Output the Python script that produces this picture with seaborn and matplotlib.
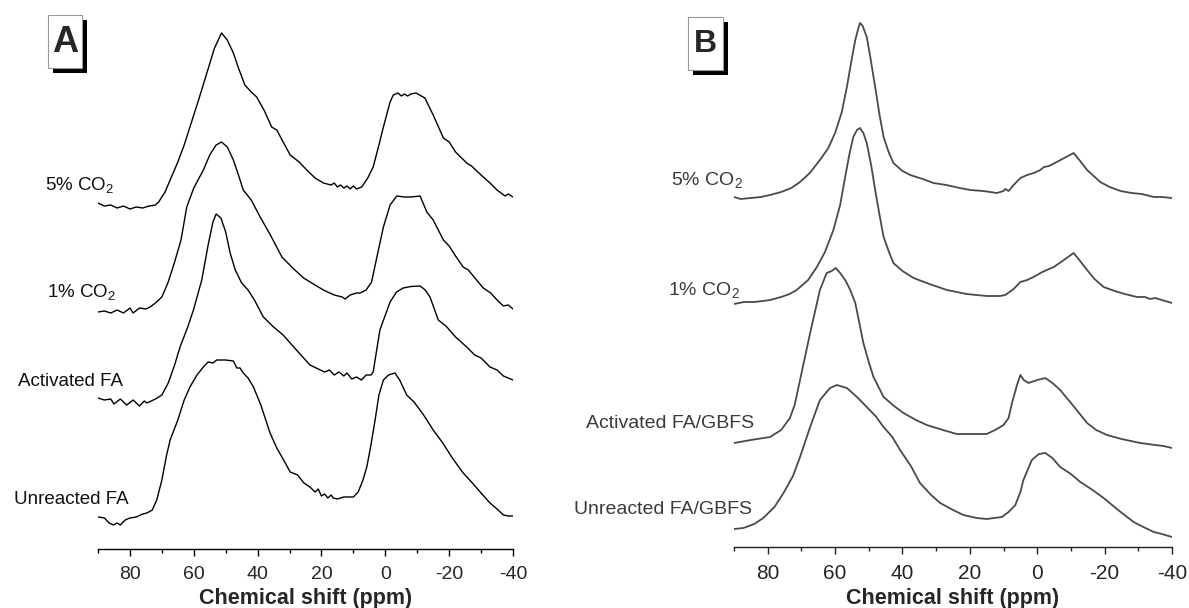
import numpy as np
import matplotlib
matplotlib.use('Agg')
import matplotlib.pyplot as plt
from matplotlib.patches import Rectangle
from matplotlib.ticker import MultipleLocator
import seaborn as sns

# ---- panel A : FA series (ppm, intensity above own baseline) ----
a_ppm_5co2 = [90, 88, 86, 84, 82, 80, 78, 76, 74, 72, 71, 69, 67.4, 65, 63, 61.2, 58.5, 55.9, 53.5, 51.3,
              49.5, 47.6, 46, 44, 42, 40.3, 38, 35.6, 34, 32, 29.8, 27, 24.6, 22, 19.4, 17, 16, 15, 14, 13,
              12, 11, 10, 9, 7.4, 5.5, 3.8, 2, 0.6, -1.5, -2.5, -4, -5, -6, -7, -8, -9.6, -12.4, -15, -18.2,
              -20, -22, -25.5, -27, -30, -32.8, -35, -37.5, -38.5, -40]
a_int_5co2 = [6, 3, 4, 1, 3, 0, 2, 1, 3, 4, 7, 17, 29, 47, 64, 82, 109, 136, 161, 176,
              169, 156, 141, 124, 117, 112, 99, 82, 79, 67, 54, 47, 39, 31, 26, 24, 26, 22, 24, 21,
              23, 20, 23, 20, 22, 31, 42, 64, 82, 107, 114, 116, 113, 115, 113, 115, 116, 111, 94, 71,
              67, 57, 46, 43, 34, 26, 19, 13, 15, 12]

a_ppm_1co2 = [90, 88, 86, 84, 82, 80, 79, 77, 75, 73.7, 72, 70, 68, 66, 64, 62.2, 60, 57, 55, 53, 51.3,
              49.5, 47.6, 46, 44.5, 42, 39.2, 36, 32.4, 29, 25.6, 22, 19.4, 16, 13.5, 12.6, 11, 9, 7.9, 6,
              4.3, 2.5, 0.6, -1.5, -3.6, -6, -8, -10.9, -13, -15, -18.2, -20, -22, -24.4, -26, -28.6,
              -30.7, -33, -35, -37, -38.5, -40]
a_int_1co2 = [2, 3, 1, 4, 1, 6, 1, 6, 5, 7, 11, 17, 32, 52, 74, 107, 126, 144, 159, 169, 172,
              167, 154, 139, 124, 114, 97, 79, 57, 46, 36, 29, 24, 19, 17, 15, 19, 21, 21, 24,
              32, 59, 87, 109, 118, 117, 117, 118, 102, 94, 74, 68, 58, 47, 44, 34,
              26, 21, 14, 8, 9, 5]

a_ppm_act = [90, 88, 86, 85, 83, 81, 79, 77, 75.5, 74.7, 72, 70, 68, 66, 64.3, 62, 60.1, 57.5, 55.5, 54,
             53, 51.5, 50, 48.6, 47, 45, 43, 41, 38.2, 35, 32, 29.8, 27, 23.6, 21, 19, 17.5, 16, 14.5, 13,
             12, 10.5, 9, 7.5, 6, 4.5, 3.8, 1.7, -1.5, -3.5, -5.6, -8, -10.9, -12.5, -14, -16.6, -19,
             -22, -25.5, -28, -30, -32.8, -35, -37, -40]
a_int_act = [6, 4, 5, 0, 5, -1, 4, -2, 3, 1, 5, 9, 21, 39, 57, 76, 94, 124, 159, 182,
             190, 186, 172, 151, 134, 121, 114, 104, 87, 77, 69, 61, 51, 39, 35, 32, 34, 29, 32, 28,
             31, 25, 27, 24, 29, 29, 32, 74, 102, 112, 116, 117.5, 118, 114, 107, 84, 78,
             67, 57, 49, 46, 37, 34, 28, 24]

a_ppm_unr = [90, 88, 86.5, 85.2, 84, 83, 81.5, 80, 78, 76, 74.7, 73, 71.6, 70, 68.5, 67.4, 65, 63, 61.2,
             59, 57, 55.5, 54, 52.8, 50, 47.6, 46.5, 45.5, 44.5, 43, 41.3, 39, 36.1, 34, 31.5, 29.8, 27.5,
             25.5, 23.6, 22, 21, 20, 19, 18, 17, 16.3, 15, 13, 10, 8.5, 7, 5.8, 4.5, 3.2, 2, 0.6, -1,
             -3, -4.5, -6.7, -9, -12, -15, -18, -21, -24.4, -27, -30, -32.8, -35, -37, -38.5, -40]
a_int_unr = [7, 6, 1, -1, 1, -1, 4, 6, 7, 10, 11, 14, 24, 44, 69, 84, 104, 124, 137,
             149, 157, 162, 161, 164, 164, 163, 156, 156, 151, 146, 137, 119, 91, 76, 62, 52, 49,
             41, 37, 32, 35, 28, 30, 26, 29, 26, 25, 27, 27, 32, 44, 57, 79, 104, 129, 144, 149,
             151, 144, 129, 122, 109, 94, 81, 66, 51, 42, 31, 21, 15, 9, 8, 8]

a_labels = ['5% CO$_2$', '1% CO$_2$', 'Activated FA', 'Unreacted FA']
a_offsets = [340, 235, 145, 25]

# ---- panel B : FA/GBFS series ----
b_ppm_5co2 = [90, 88, 85, 82, 79.3, 76, 73, 70.4, 67.5, 64.5, 62, 60, 58, 56.5, 55, 54, 53, 52.6, 51.8,
              50.6, 49.5, 48.1, 46.8, 45.6, 44, 42.7, 40, 37.7, 34, 30.8, 27, 23, 19.9, 16, 12, 10, 9.5,
              8.5, 7, 5, 3, 1, -0.9, -2, -3.5, -5.8, -8, -10.8, -12.5, -14.8, -18.7, -21.5, -24.7, -28,
              -31, -34.6, -37, -40]
b_int_5co2 = [0, -2, -1, 0, 2, 5, 9, 15, 24, 37, 49, 64, 85, 110, 139, 157, 170, 174, 171,
              160, 139, 110, 82, 60, 44, 34, 26, 22, 18, 14, 12, 9, 7, 6, 4, 6, 8,
              6, 12, 19, 22, 24, 27, 30, 31, 35, 39, 44, 37, 27, 15, 10, 6, 4,
              3, 0, 0, -1]

b_ppm_1co2 = [90, 87, 84, 81.5, 79.3, 76, 73.5, 71.4, 68, 65.4, 63, 60.5, 58.5, 57, 55.8, 54.6, 53.5, 52.6,
              51.6, 50.6, 49.3, 48.1, 46.8, 45.6, 44, 42.7, 40, 36.7, 32, 26.8, 21, 15, 11, 9.5, 7, 5, 3,
              1.1, -1.5, -4.9, -7.5, -10.8, -12.5, -14.8, -17, -19.7, -23, -26, -29.6, -32, -33.5, -35,
              -38, -40]
b_int_1co2 = [0, 2, 2, 3, 4, 7, 10, 14, 24, 37, 52, 74, 99, 127, 149, 167, 174, 176,
              171, 161, 139, 114, 89, 67, 52, 41, 33, 26, 20, 14, 10, 8, 8, 9, 15, 22, 24,
              27, 32, 37, 43, 51, 44, 34, 25, 17, 13, 10, 7, 7, 5, 6,
              3, 1]

b_ppm_act = [90, 85, 79.3, 76, 73.4, 72, 70.4, 67.4, 64.5, 62.5, 61, 59.8, 58.5, 57, 55.5, 54, 51.6, 50,
             48.6, 45.6, 42.5, 39.7, 36, 32.8, 28, 23.9, 19, 15, 12.5, 10, 8.5, 7.5, 6, 5, 4, 2.6, 0,
             -2.4, -4.5, -6.8, -10.5, -14.8, -17.5, -20.7, -25, -30.6, -35, -37.5, -40]
b_int_act = [-1, 2, 5, 12, 24, 37, 62, 109, 152, 169, 171, 174, 169, 162, 152, 139, 99, 80,
             65, 45, 36, 29, 22, 17, 12, 8, 8, 8, 12, 17, 24, 39, 57, 67, 62, 59, 62,
             64, 59, 52, 37, 19, 12, 7, 3, -1, -3, -4, -6]

b_ppm_unr = [90, 87.2, 84, 81.3, 78, 75.3, 72.5, 70.4, 67.4, 64.5, 61.5, 59.5, 56.5, 53.5, 50.6, 48, 45.6,
             43, 40.7, 37.5, 34.8, 31.5, 28.8, 25, 21.9, 18, 15, 10.5, 8.5, 6.5, 5, 4.1, 1.6, -0.5, -2.4,
             -4.5, -6.8, -10, -12.8, -16, -19.7, -24, -28.6, -31.5, -34.6, -37, -40]
b_int_unr = [3, 4, 8, 14, 25, 39, 56, 75, 105, 132, 144, 147, 144, 135, 125, 116, 105,
             95, 82, 66, 49, 37, 29, 22, 17, 14, 13, 15, 20, 27, 40, 52, 72, 78, 79,
             74, 65, 58, 50, 43, 34, 22, 10, 5, 0, -2, -5]

b_labels = ['5% CO$_2$', '1% CO$_2$', 'Activated FA/GBFS', 'Unreacted FA/GBFS']
b_offsets = [350, 243, 105, 15]

xticks_major = [80, 60, 40, 20, 0, -20, -40]

sns.set_style('white')
plt.rcParams['font.family'] = ['Liberation Sans', 'DejaVu Sans']
plt.rcParams['mathtext.fontset'] = 'custom'
plt.rcParams['mathtext.rm'] = 'Liberation Sans'
plt.rcParams['mathtext.it'] = 'Liberation Sans:italic'
plt.rcParams['axes.unicode_minus'] = False

W, H = 1189, 608
fig = plt.figure(figsize=(W / 100, H / 100), dpi=100)
fig.patch.set_facecolor('white')


def fx(px):
    return px / W


def fy(py):
    return 1 - py / H


def style_axis(ax, ytop, color, tsize):
    ax.set_xlim(90, -40)
    ax.set_ylim(0, ytop)
    ax.set_xticks(xticks_major)
    ax.xaxis.set_minor_locator(MultipleLocator(10))
    ax.set_yticks([])
    for s in ['left', 'top', 'right']:
        ax.spines[s].set_visible(False)
    ax.spines['bottom'].set_color(color)
    ax.spines['bottom'].set_linewidth(1.0)
    ax.tick_params(axis='x', which='major', direction='out', length=5, width=1,
                   color=color, labelsize=tsize, pad=7, bottom=True)
    ax.tick_params(axis='x', which='minor', direction='out', length=3, width=1,
                   color=color, bottom=True)
    ax.set_xlabel('Chemical shift (ppm)', fontsize=15.5, fontweight='bold', labelpad=4)
    ax.set_facecolor('none')


def boxed_letter(x0, y0, x1, y1, letter, size):
    fig.add_artist(Rectangle((fx(x0 + 5), fy(y1 + 5)), (x1 - x0) / W, (y1 - y0) / H,
                             facecolor='black', edgecolor='none', transform=fig.transFigure))
    fig.add_artist(Rectangle((fx(x0), fy(y1)), (x1 - x0) / W, (y1 - y0) / H,
                             facecolor='white', edgecolor='#999999', lw=0.8, transform=fig.transFigure))
    fig.text(fx((x0 + x1) / 2), fy((y0 + y1) / 2 + 1), letter, ha='center', va='center',
             fontsize=size, fontweight='bold')


# panel A
ax_a = fig.add_axes([fx(98), fy(549), (513 - 98) / W, (549 - 10) / H])
a_series = [(a_ppm_5co2, a_int_5co2), (a_ppm_1co2, a_int_1co2),
            (a_ppm_act, a_int_act), (a_ppm_unr, a_int_unr)]
for (p, v), off in zip(a_series, a_offsets):
    sns.lineplot(x=p, y=np.array(v) + off, ax=ax_a, color='black', lw=1.0, sort=False, estimator=None)
style_axis(ax_a, 539, 'black', 14)

# panel B
ax_b = fig.add_axes([fx(734), fy(547), (1172 - 734) / W, (547 - 10) / H])
b_series = [(b_ppm_5co2, b_int_5co2), (b_ppm_1co2, b_int_1co2),
            (b_ppm_act, b_int_act), (b_ppm_unr, b_int_unr)]
for (p, v), off in zip(b_series, b_offsets):
    sns.lineplot(x=p, y=np.array(v) + off, ax=ax_b, color='#4a4a4a', lw=1.3, sort=False, estimator=None)
style_axis(ax_b, 537, '#222222', 15)

# sample labels
a_pos = [(80, 185), (82, 292), (71, 382), (71, 499)]
for lab, (x, y) in zip(a_labels, a_pos):
    fig.text(fx(x), fy(y), lab, ha='center', va='center', fontsize=13.5, color='#111111')

b_pos = [(743, 180), (740, 290), (754, 423), (752, 510)]
for lab, (x, y) in zip(b_labels, b_pos):
    fig.text(fx(x), fy(y), lab, ha='right', va='center', fontsize=14, color='#3a3a3a')

boxed_letter(48, 15, 82, 68, 'A', 26)
boxed_letter(688, 17, 723, 70, 'B', 23)

fig.savefig('out.png', dpi=100, facecolor='white')
